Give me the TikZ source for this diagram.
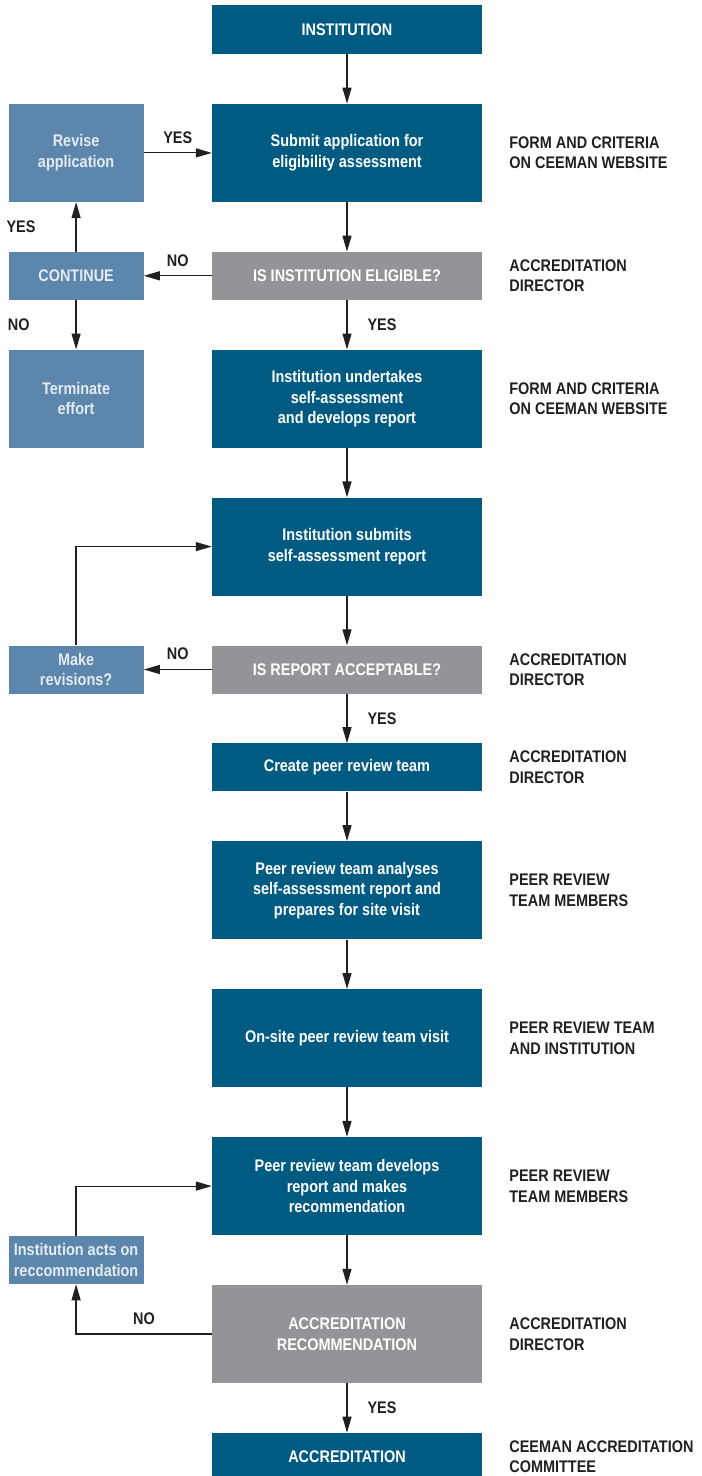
\documentclass[tikz,border=0pt]{standalone}
\usepackage{fontspec}
\setmainfont{Liberation Sans}[FakeStretch=0.86]
\usepackage{tikz}
\usetikzlibrary{positioning,calc,arrows.meta}

\definecolor{ceeblue}{RGB}{0,91,130}
\definecolor{sideblue}{RGB}{92,134,172}
\definecolor{askgrey}{RGB}{147,148,152}
\definecolor{inkdark}{RGB}{35,31,32}
\definecolor{paletext}{RGB}{228,235,242}

\begin{document}
\begin{tikzpicture}[x=1bp, y=1bp, node distance=49.5bp, >={Triangle[length=16bp,width=9bp]},
  font=\fontsize{16.8bp}{20.5bp}\selectfont\bfseries]

% Define block styles
\tikzstyle{block} = [fill=ceeblue, text=white, minimum width=270bp, minimum height=48bp, inner sep=0pt, align=center]
\tikzstyle{tall} = [minimum height=98bp]
\tikzstyle{decision} = [block, fill=askgrey]
\tikzstyle{side} = [fill=sideblue, text=paletext, minimum width=135bp, minimum height=48bp, inner sep=0pt, align=center]
\tikzstyle{note} = [text=inkdark, align=left, inner sep=0pt]
\tikzstyle{lbl} = [text=inkdark, inner sep=0pt]
\tikzstyle{line} = [draw=inkdark, line width=1.2bp]

\useasboundingbox (0,0) rectangle (702,-1476);

% Main column
\node [block, minimum height=49bp] (inst) at (347,-29.5) {INSTITUTION};
\node [block, tall, below=of inst] (submit) {Submit application for\\eligibility assessment};
\node [decision, below=of submit] (elig) {IS INSTITUTION ELIGIBLE?};
\node [block, tall, below=of elig] (undertake) {Institution undertakes\\self-assessment\\and develops report};
\node [block, tall, below=of undertake] (submitrep) {Institution submits\\self-assessment report};
\node [decision, below=of submitrep] (accept) {IS REPORT ACCEPTABLE?};
\node [block, below=of accept] (team) {Create peer review team};
\node [block, tall, below=of team] (analyse) {Peer review team analyses\\self-assessment report and\\prepares for site visit};
\node [block, tall, below=of analyse] (visit) {On-site peer review team visit};
\node [block, tall, below=of visit] (develop) {Peer review team develops\\report and makes\\recommendation};
\node [decision, tall, below=of develop] (recomm) {ACCREDITATION\\RECOMMENDATION};
\node [block, below=of recomm] (accred) {ACCREDITATION};

% Side column
\node [side, tall, left=68bp of submit] (revise) {Revise\\application};
\node [side, left=68bp of elig] (cont) {CONTINUE};
\node [side, tall, left=68bp of undertake] (stop) {Terminate\\effort};
\node [side, left=68bp of accept] (revisions) {Make\\revisions?};
\coordinate (actsrow) at ($(develop.south)!0.5!(recomm.north)$);
\node [side] (acts) at (revise |- actsrow) {Institution acts on\\reccommendation};

% Who is responsible
\node [note, right=27bp of submit] (submitnote) {FORM AND CRITERIA\\ON CEEMAN WEBSITE};
\node [note, right=27bp of elig] (elignote) {ACCREDITATION\\DIRECTOR};
\node [note, right=27bp of undertake] (undertakenote) {FORM AND CRITERIA\\ON CEEMAN WEBSITE};
\node [note, right=27bp of accept] (acceptnote) {ACCREDITATION\\DIRECTOR};
\node [note, right=27bp of team] (teamnote) {ACCREDITATION\\DIRECTOR};
\node [note, right=27bp of analyse] (analysenote) {PEER REVIEW\\TEAM MEMBERS};
\node [note, right=27bp of visit] (visitnote) {PEER REVIEW TEAM\\AND INSTITUTION};
\node [note, right=27bp of develop] (developnote) {PEER REVIEW\\TEAM MEMBERS};
\node [note, right=27bp of recomm] (recommnote) {ACCREDITATION\\DIRECTOR};
\node [note, right=27bp of accred] (accrednote) {CEEMAN ACCREDITATION\\COMMITTEE};

% Connections
\draw [line, ->] (inst) -- (submit);
\draw [line, ->] (submit) -- (elig);
\draw [line, ->] (elig) -- node[lbl, right=20bp] {YES} (undertake);
\draw [line, ->] (undertake) -- (submitrep);
\draw [line, ->] (submitrep) -- (accept);
\draw [line, ->] (accept) -- node[lbl, right=20bp] {YES} (team);
\draw [line, ->] (team) -- (analyse);
\draw [line, ->] (analyse) -- (visit);
\draw [line, ->] (visit) -- (develop);
\draw [line, ->] (develop) -- (recomm);
\draw [line, ->] (recomm) -- node[lbl, right=20bp] {YES} (accred);

\draw [line, ->] (revise) -- node[lbl, above=9bp] {YES} (submit);
\draw [line, ->] (elig) -- node[lbl, above=9bp] {NO} (cont);
\draw [line, ->] (cont) -- node[lbl, left=40bp] {YES} (revise);
\draw [line, ->] (cont) -- node[lbl, left=46bp] {NO} (stop);
\draw [line, ->] (accept) -- node[lbl, above=9bp] {NO} (revisions);
\draw [line, ->] (revisions.north) |- (submitrep.west);
\draw [line, ->] (acts.north) |- (develop.west);
\draw [line, ->] (recomm.west) -| node[lbl, above=9bp, pos=0.25] {NO} (acts.south);

\end{tikzpicture}
\end{document}
